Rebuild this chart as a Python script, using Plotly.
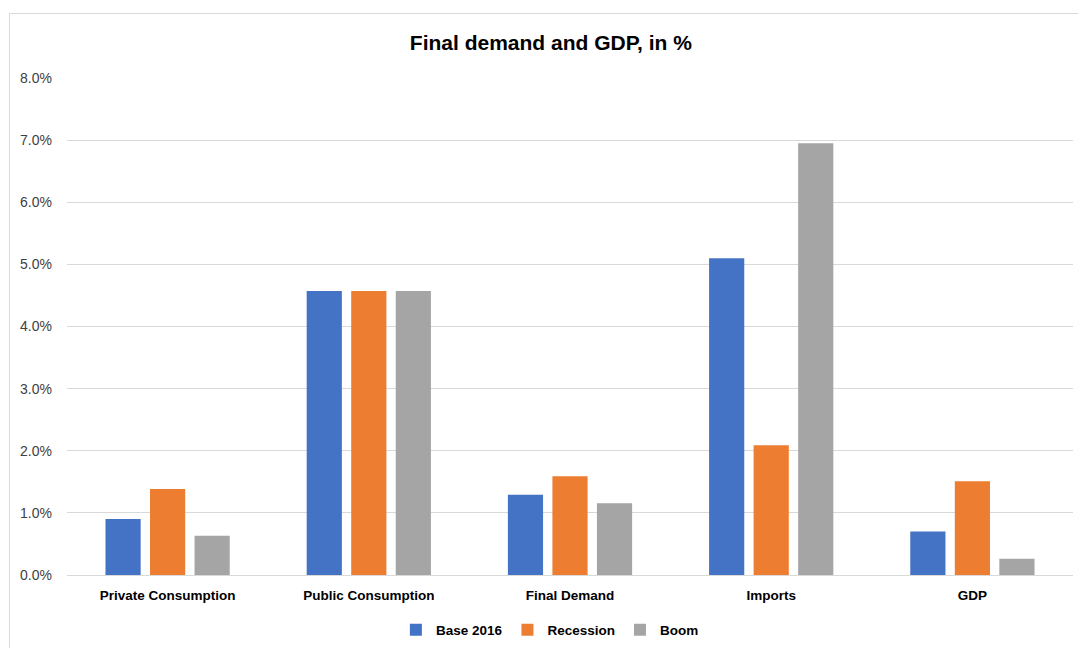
import plotly.graph_objects as go

categories = ["Private Consumption", "Public Consumption", "Final Demand", "Imports", "GDP"]
base_2016 = [0.90, 4.57, 1.29, 5.10, 0.70]
recession = [1.385, 4.57, 1.59, 2.09, 1.51]
boom = [0.63, 4.57, 1.155, 6.95, 0.26]

series = [
    ("Base 2016", base_2016, "#4472C4"),
    ("Recession", recession, "#ED7D31"),
    ("Boom", boom, "#A5A5A5"),
]

tick_vals = [0, 1, 2, 3, 4, 5, 6, 7, 8]
tick_text = [f"{v:.1f}%" for v in tick_vals]

fig = go.Figure()
for name, vals, color in series:
    fig.add_trace(go.Bar(
        x=categories, y=vals, name=name,
        marker=dict(color=color, line=dict(width=0)),
        hoverinfo="x+y+name",
    ))

FONT = "Liberation Sans, Arial, sans-serif"

fig.update_layout(
    width=1078, height=648,
    margin=dict(l=67, r=5, t=78, b=73, autoexpand=False),
    paper_bgcolor="white", plot_bgcolor="white",
    barmode="group", bargap=0.336, bargroupgap=0.21,
    title=dict(
        text="<b>Final demand and GDP, in %</b>",
        x=0.511, xanchor="center", xref="container",
        y=0.934, yanchor="middle", yref="container",
        font=dict(family=FONT, size=21, color="#000000"),
    ),
    font=dict(family=FONT, color="#404040"),
    showlegend=True,
    legend=dict(
        orientation="h", x=0.48, xanchor="center",
        y=-0.1107, yanchor="middle",
        font=dict(family=FONT, size=13.5, color="#000000", weight="bold"),
        itemwidth=30, traceorder="normal",
    ),
    xaxis=dict(
        showgrid=False, showline=False, zeroline=False, ticks="",
        tickfont=dict(family=FONT, size=13.5, color="#000000", weight="bold"),
        ticklabelstandoff=10,
    ),
    yaxis=dict(
        range=[0, 8], tickvals=tick_vals, ticktext=tick_text,
        showgrid=True, gridcolor="#d9d9d9", gridwidth=1,
        zeroline=True, zerolinecolor="#d9d9d9", zerolinewidth=1,
        showline=False, ticks="",
        tickfont=dict(family=FONT, size=14, color="#404040"),
        ticklabelstandoff=14,
    ),
    shapes=[dict(
        type="rect", xref="paper", yref="paper",
        x0=-0.0572, x1=1.0104, y0=-0.2, y1=1.1298,
        line=dict(color="#d9d9d9", width=1), fillcolor="rgba(0,0,0,0)",
        layer="below",
    )],
)

fig.write_html("out.html")
